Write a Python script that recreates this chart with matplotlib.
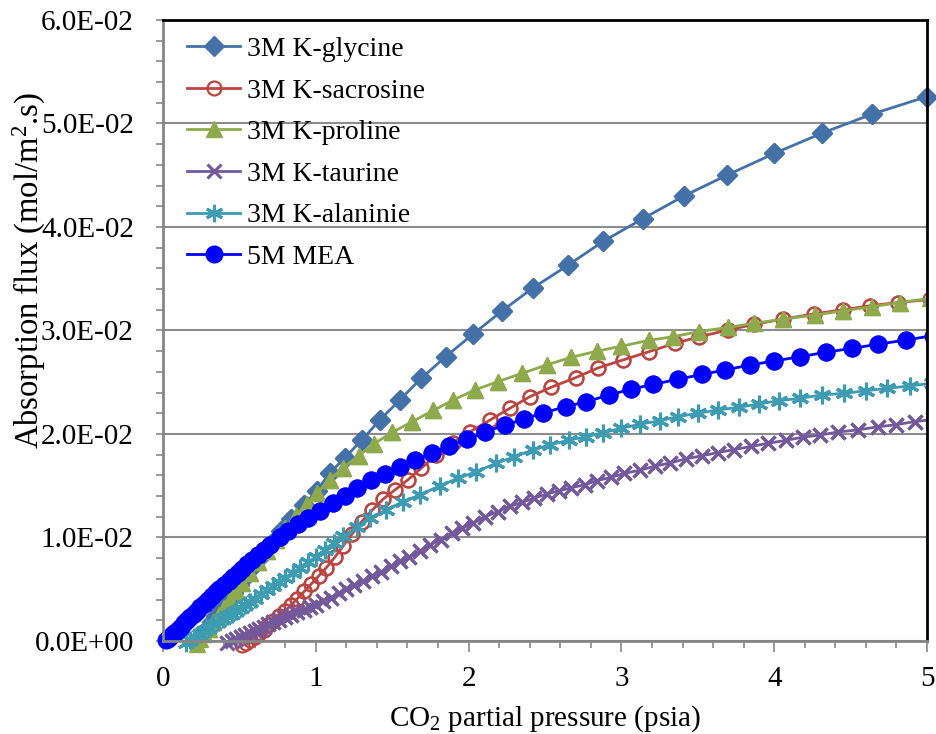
import numpy as np
import matplotlib
matplotlib.use("Agg")
import matplotlib.pyplot as plt
from matplotlib.ticker import MultipleLocator, FuncFormatter

plt.rcParams["font.family"] = ["Liberation Serif", "DejaVu Serif"]
plt.rcParams["mathtext.fontset"] = "custom"
plt.rcParams["mathtext.rm"] = "Liberation Serif"
plt.rcParams["mathtext.default"] = "regular"

# ---- data (x = CO2 partial pressure, psia; y = flux) ----
glycine_x = [0.21, 0.23, 0.25, 0.27, 0.30, 0.32, 0.35, 0.38, 0.42, 0.46, 0.50, 0.54,
             0.59, 0.65, 0.71, 0.77, 0.84, 0.92, 1.006, 1.09, 1.19, 1.30, 1.42, 1.55,
             1.69, 1.85, 2.03, 2.22, 2.42, 2.65, 2.88, 3.14, 3.41, 3.69, 4.00, 4.31,
             4.64, 5.00]
glycine_y = [-0.0001, 0.0002, 0.0005, 0.0009, 0.0014, 0.0018, 0.0024, 0.0030, 0.0038,
             0.0046, 0.0054, 0.0062, 0.0072, 0.0083, 0.0094, 0.0106, 0.0118, 0.0131,
             0.0145, 0.0162, 0.0177, 0.0194, 0.02135, 0.02329, 0.02538, 0.02747,
             0.02966, 0.0319, 0.0341, 0.0363, 0.0386, 0.0408, 0.0430, 0.0450, 0.0471,
             0.04905, 0.0509, 0.0526]

sacrosine_x = [0.52, 0.545, 0.57, 0.60, 0.63, 0.66, 0.69, 0.72, 0.76, 0.80, 0.84, 0.88,
               0.925, 0.97, 1.02, 1.07, 1.125, 1.18, 1.235, 1.30, 1.37, 1.44, 1.52,
               1.605, 1.69, 1.79, 1.90, 2.01, 2.14, 2.27, 2.40, 2.54, 2.70, 2.85, 3.01,
               3.18, 3.35, 3.51, 3.70, 3.87, 4.06, 4.26, 4.45, 4.63, 4.81, 5.02]
sacrosine_y = [-0.0004, -0.0002, 0.0001, 0.0004, 0.0008, 0.0011, 0.0015, 0.0019, 0.0024,
               0.0029, 0.0035, 0.0041, 0.0048, 0.0055, 0.0063, 0.0071, 0.0081, 0.0092,
               0.0103, 0.01153, 0.01266, 0.0137, 0.01462, 0.0156, 0.0167, 0.01797,
               0.01916, 0.02022, 0.02135, 0.02248, 0.0236, 0.02451, 0.02544, 0.0264,
               0.02715, 0.02795, 0.02876, 0.0294, 0.03005, 0.0306, 0.0311, 0.0316,
               0.0320, 0.0324, 0.0327, 0.0330]

proline_x = [0.22, 0.245, 0.27, 0.30, 0.33, 0.365, 0.40, 0.44, 0.48, 0.52, 0.57, 0.62,
             0.68, 0.74, 0.80, 0.87, 0.94, 1.01, 1.09, 1.18, 1.28, 1.38, 1.50, 1.63,
             1.77, 1.90, 2.04, 2.19, 2.35, 2.51, 2.67, 2.84, 3.00, 3.18, 3.34, 3.51,
             3.70, 3.87, 4.06, 4.27, 4.45, 4.64, 4.82, 5.02]
proline_y = [-0.0003, 0.0002, 0.0007, 0.0012, 0.0018, 0.0025, 0.0032, 0.0040, 0.0048,
             0.0056, 0.0066, 0.0076, 0.0087, 0.0098, 0.0109, 0.0121, 0.0132, 0.0143,
             0.0156, 0.01675, 0.0179, 0.01905, 0.02015, 0.02119, 0.02228, 0.02329,
             0.02425, 0.02505, 0.02586, 0.02667, 0.0274, 0.0280, 0.02848, 0.02905,
             0.0294, 0.0299, 0.0303, 0.0307, 0.0311, 0.0315, 0.0319, 0.0323, 0.0327,
             0.0331]

taurine_x = [0.42, 0.45, 0.48, 0.51, 0.54, 0.57, 0.60, 0.63, 0.66, 0.69, 0.72, 0.76,
             0.80, 0.84, 0.88, 0.92, 0.96, 1.00, 1.05, 1.10, 1.15, 1.20, 1.25, 1.31,
             1.37, 1.43, 1.49, 1.55, 1.61, 1.68, 1.75, 1.82, 1.89, 1.96, 2.03, 2.11,
             2.19, 2.27, 2.35, 2.43, 2.51, 2.59, 2.67, 2.76, 2.84, 2.93, 3.02, 3.12,
             3.22, 3.32, 3.42, 3.53, 3.63, 3.74, 3.85, 3.96, 4.08, 4.19, 4.30, 4.42,
             4.55, 4.68, 4.80, 4.92, 5.04]
taurine_y = [-0.0002, 0.0000, 0.0002, 0.0004, 0.0006, 0.0008, 0.0010, 0.0012, 0.0014,
             0.0016, 0.0018, 0.0020, 0.0023, 0.0025, 0.0028, 0.0030, 0.0033, 0.0035,
             0.0039, 0.0042, 0.0046, 0.0050, 0.0054, 0.0058, 0.0063, 0.0067, 0.0072,
             0.0077, 0.0081, 0.0087, 0.0093, 0.0098, 0.0104, 0.0109, 0.0114, 0.0120,
             0.0125, 0.0130, 0.0134, 0.0138, 0.0142, 0.0145, 0.0148, 0.0151, 0.0155,
             0.0158, 0.0162, 0.0165, 0.0169, 0.0172, 0.0176, 0.0179, 0.0182, 0.0185,
             0.0188, 0.0191, 0.0194, 0.0197, 0.0199, 0.0202, 0.0204, 0.0207, 0.0209,
             0.0212, 0.0214]

alanine_x = [0.15, 0.18, 0.21, 0.24, 0.27, 0.30, 0.33, 0.36, 0.39, 0.42, 0.45, 0.48,
             0.51, 0.54, 0.57, 0.60, 0.64, 0.68, 0.72, 0.76, 0.80, 0.85, 0.90, 0.95,
             1.00, 1.06, 1.12, 1.18, 1.27, 1.355, 1.46, 1.57, 1.68, 1.81, 1.93, 2.05,
             2.18, 2.30, 2.42, 2.53, 2.66, 2.77, 2.88, 3.00, 3.12, 3.25, 3.37, 3.50,
             3.63, 3.77, 3.90, 4.03, 4.17, 4.31, 4.46, 4.60, 4.74, 4.89, 5.03]
alanine_y = [-0.0002, 0.0001, 0.0004, 0.0007, 0.0010, 0.0013, 0.0016, 0.0018, 0.0021,
             0.0024, 0.0026, 0.0029, 0.0032, 0.0035, 0.0038, 0.0041, 0.0045, 0.0049,
             0.0053, 0.0057, 0.0061, 0.0066, 0.0071, 0.0076, 0.0081, 0.0088, 0.0095,
             0.0101, 0.0110, 0.01185, 0.01266, 0.01346, 0.01411, 0.01498, 0.01572,
             0.01636, 0.01717, 0.01781, 0.01845, 0.01894, 0.01942, 0.01974, 0.02013,
             0.02055, 0.02094, 0.02128, 0.02167, 0.02200, 0.02232, 0.02258, 0.02290,
             0.02322, 0.02345, 0.02377, 0.02393, 0.02418, 0.02441, 0.02465, 0.0249]

mea_x = [0.02, 0.03, 0.045, 0.06, 0.075, 0.09, 0.105, 0.12, 0.14, 0.16, 0.18, 0.20,
         0.22, 0.245, 0.27, 0.295, 0.32, 0.345, 0.37, 0.40, 0.43, 0.46, 0.49, 0.52,
         0.55, 0.585, 0.62, 0.66, 0.70, 0.765, 0.82, 0.885, 0.95, 1.03, 1.11, 1.19,
         1.27, 1.36, 1.45, 1.55, 1.65, 1.76, 1.87, 1.99, 2.11, 2.24, 2.36, 2.49,
         2.64, 2.77, 2.92, 3.06, 3.21, 3.37, 3.53, 3.68, 3.84, 4.00, 4.17, 4.34,
         4.51, 4.68, 4.86, 5.04]
mea_y = [0.0001, 0.0002, 0.0004, 0.0006, 0.0008, 0.0010, 0.0012, 0.0014, 0.0017, 0.0020,
         0.0023, 0.0026, 0.0029, 0.0033, 0.0036, 0.0040, 0.0043, 0.0047, 0.0050, 0.0054,
         0.0058, 0.0062, 0.0066, 0.0070, 0.0074, 0.0078, 0.0083, 0.0088, 0.0093, 0.0100,
         0.0106, 0.0113, 0.0119, 0.0126, 0.0133, 0.0140, 0.01475, 0.01556, 0.01614,
         0.01678, 0.01749, 0.01813, 0.01884, 0.01948, 0.02022, 0.02087, 0.02142,
         0.02206, 0.02264, 0.02312, 0.02377, 0.02432, 0.0248, 0.02528, 0.02577,
         0.02618, 0.02667, 0.02705, 0.02747, 0.0279, 0.02828, 0.02867, 0.02908, 0.0295]

labels = ["3M K-glycine", "3M K-sacrosine", "3M K-proline", "3M K-taurine",
          "3M K-alaninie", "5M MEA"]

series = [
    (glycine_x, glycine_y, dict(color="#4471A8", marker="D", ms=10.5, mfc="#4471A8")),
    (sacrosine_x, sacrosine_y, dict(color="#BB4541", marker="o", ms=10, mfc="none", mew=1.6)),
    (proline_x, proline_y, dict(color="#8EAA4C", marker="^", ms=12, mfc="#8EAA4C")),
    (taurine_x, taurine_y, dict(color="#73599C", marker="x", ms=10, mew=2.2)),
    (alanine_x, alanine_y, dict(color="#3D9BB2", marker=(6, 2, 0), ms=12.5, mew=2.2)),
    (mea_x, mea_y, dict(color="#0000FF", marker="o", ms=12, mfc="#0000FF")),
]

fig = plt.figure(figsize=(9.36, 7.34), dpi=100)
ax = fig.add_axes([0.1741, 0.1267, 0.8163, 0.8461])

for (x, y, st), lab in zip(series, labels):
    x = np.array(x)
    y = np.array(y)
    ax.plot(x, y, lw=2.0, label=lab, **st)
    # markers at the bottom edge spill over the axis, as in the original
    keep = x <= 5
    ax.plot(x[keep], y[keep], ls="none", clip_on=False, **st)

ax.set_xlim(0, 5)
ax.set_ylim(0, 0.06)
ax.xaxis.set_major_locator(MultipleLocator(1))
ax.xaxis.set_minor_locator(MultipleLocator(0.2))
ax.yaxis.set_major_locator(MultipleLocator(0.01))
ax.yaxis.set_minor_locator(MultipleLocator(0.002))
ax.yaxis.set_major_formatter(FuncFormatter(lambda v, p: f"{v:.1E}"))

ax.grid(axis="y", which="major", color="#8C8C8C", lw=1.5)
ax.set_axisbelow(True)

for side in ["left", "bottom"]:
    ax.spines[side].set_color("#868686")
    ax.spines[side].set_linewidth(2)
for side in ["top", "right"]:
    ax.spines[side].set_color("black")
    ax.spines[side].set_linewidth(2)

ax.tick_params(axis="both", which="both", direction="out", color="#868686",
               labelsize=21, width=1.2)
ax.tick_params(axis="x", which="major", length=8, pad=10)
ax.tick_params(axis="x", which="minor", length=5)
ax.tick_params(axis="y", which="major", length=5, pad=16)
ax.tick_params(axis="y", which="minor", length=5)

ax.set_xlabel("CO$_2$ partial pressure (psia)", fontsize=21, labelpad=8)
ax.set_ylabel("Absorption flux (mol/m$^2$.s)", fontsize=23.5)
ax.yaxis.set_label_coords(-0.150, 0.597)

ax.legend(loc="upper left", bbox_to_anchor=(0.01, 1.0), frameon=False, fontsize=20,
          handlelength=1.9, handletextpad=0.25, labelspacing=0.58, borderaxespad=0.2)

fig.savefig("out.png", dpi=100)
